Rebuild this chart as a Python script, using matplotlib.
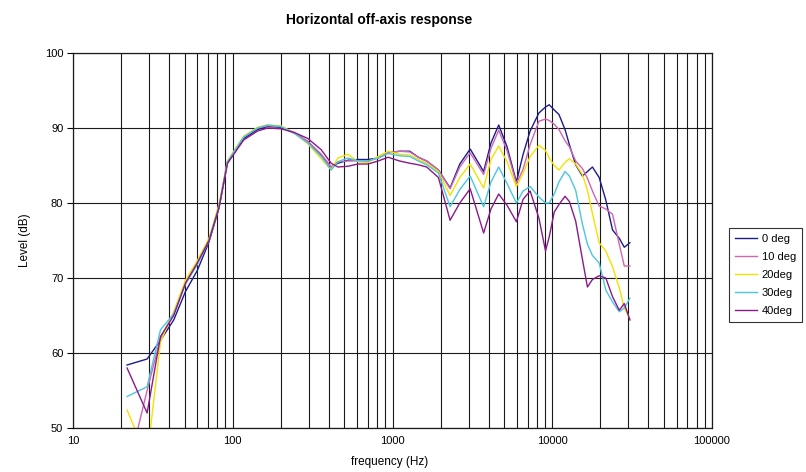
import numpy as np
import matplotlib
matplotlib.use('Agg')
import matplotlib.pyplot as plt
from matplotlib.ticker import FixedLocator, LogLocator, NullFormatter

plt.rcParams['font.family'] = ['Liberation Sans', 'DejaVu Sans']

# --- Data ---
freq = [21.8, 29.1, 35.3, 42.7, 50.6, 60, 71, 82, 92.6, 101.5,
        117, 143, 165, 200, 243, 295, 358, 413, 455, 526,
        608, 703, 813, 940, 1107, 1284, 1451, 1636, 1939, 2293,
        2639, 3064, 3719, 4134, 4622, 5212, 5964, 6571, 7271, 8249,
        9077, 9575, 10294, 11018, 12022, 12794, 14014, 15444, 16606, 17846,
        19665, 21637, 23846, 26271, 28239, 30632]

deg0 = [58.4, 59.2, 61.7, 64.4, 68.2, 71.0, 74.8, 79.3, 85.3, 86.6,
        88.6, 89.8, 90.2, 90.1, 89.3, 88.2, 86.4, 84.8, 85.3, 85.7,
        85.8, 85.8, 86.0, 86.7, 86.9, 86.9, 86.1, 85.6, 84.4, 82.0,
        85.2, 87.2, 84.2, 88.0, 90.4, 87.5, 82.8, 86.5, 89.6, 92.0,
        92.8, 93.1, 92.4, 91.8, 89.8, 87.8, 85.1, 83.6, 84.2, 84.8,
        83.4, 80.4, 76.4, 75.3, 74.1, 74.7]

deg10 = [44.0, 55.0, 62.0, 65.2, 69.5, 72.0, 75.0, 79.5, 85.5, 86.8,
         88.8, 90.0, 90.3, 90.2, 89.4, 88.2, 86.5, 84.8, 85.5, 85.6,
         85.6, 85.6, 86.0, 86.7, 86.9, 86.8, 86.1, 85.6, 84.4, 81.9,
         84.8, 86.7, 83.8, 87.3, 89.7, 87.0, 82.6, 84.5, 87.8, 90.9,
         91.2, 91.0, 90.5, 89.8, 88.3, 87.5, 85.6, 84.6, 83.3, 81.6,
         79.6, 79.2, 78.5, 74.5, 71.6, 71.6]

deg20 = [52.4, 46.0, 61.5, 65.5, 69.7, 72.3, 75.3, 79.8, 85.6, 86.9,
         88.9, 90.1, 90.4, 90.3, 89.3, 87.9, 85.9, 84.4, 86.0, 86.5,
         85.5, 85.4, 86.2, 86.9, 86.5, 86.4, 85.8, 85.3, 84.2, 81.0,
         83.4, 85.2, 82.0, 85.8, 87.6, 85.5, 82.2, 84.0, 86.2, 87.7,
         87.0, 86.0, 85.0, 84.4, 85.4, 85.9, 85.2, 83.8, 81.7, 78.6,
         74.7, 73.6, 71.5, 68.7, 66.0, 64.6]

deg30 = [54.2, 55.5, 63.1, 65.2, 69.2, 71.8, 75.0, 79.5, 85.5, 86.8,
         88.8, 90.0, 90.4, 90.2, 89.3, 88.0, 86.2, 84.4, 85.5, 86.0,
         85.6, 85.6, 86.0, 86.6, 86.3, 86.2, 85.6, 85.1, 84.0, 79.5,
         81.8, 83.6, 79.5, 82.8, 84.8, 82.6, 80.0, 81.6, 82.2, 80.8,
         80.0, 80.0, 81.2, 82.8, 84.2, 83.6, 81.7, 77.2, 74.5, 73.0,
         72.0, 68.4, 66.8, 65.5, 66.0, 67.3]

deg40 = [58.0, 52.0, 62.2, 65.0, 69.3, 72.0, 75.0, 79.4, 85.3, 86.5,
         88.4, 89.6, 90.0, 89.9, 89.4, 88.6, 87.1, 85.3, 84.8, 84.9,
         85.2, 85.2, 85.6, 86.1, 85.6, 85.3, 85.1, 84.8, 83.4, 77.7,
         80.0, 81.9, 76.0, 79.2, 81.2, 79.7, 77.5, 80.5, 81.6, 78.0,
         73.6, 75.5, 78.8, 79.8, 80.9, 80.2, 77.6, 72.5, 68.8, 69.8,
         70.3, 70.0, 67.5, 65.7, 66.6, 64.4]

series = [('0 deg', deg0, '#1c1c8c'),
          ('10 deg', deg10, '#d064b4'),
          ('20deg', deg20, '#f2e200'),
          ('30deg', deg30, '#4cc6e0'),
          ('40deg', deg40, '#8a1a8a')]

# --- Plot ---
fig = plt.figure(figsize=(8.06, 4.72), dpi=100)
ax = fig.add_axes([73 / 806, 1 - 428 / 472, 639 / 806, 375 / 472])

for name, vals, col in series:
    ax.plot(freq, vals, color=col, lw=1.0, label=name)

ax.set_xscale('log')
ax.set_xlim(10, 100000)
ax.set_ylim(50, 100)
ax.set_yticks(np.arange(50, 101, 10))
ax.xaxis.set_major_locator(FixedLocator([10, 100, 1000, 10000, 100000]))
ax.xaxis.set_minor_locator(LogLocator(base=10, subs=np.arange(2, 10)))
ax.xaxis.set_minor_formatter(NullFormatter())
ax.set_xticklabels(['10', '100', '1000', '10000', '100000'])

ax.grid(True, which='major', axis='both', color='#1a1a1a', lw=0.8)
ax.grid(True, which='minor', axis='x', color='#1a1a1a', lw=0.8)
ax.set_axisbelow(True)

ax.tick_params(axis='x', which='both', length=0, pad=6, labelsize=8)
ax.tick_params(axis='y', which='major', length=4, width=0.8, labelsize=8, pad=3)
for sp in ax.spines.values():
    sp.set_color('#1a1a1a')
    sp.set_linewidth(0.9)

ax.set_xlabel('frequency (Hz)', fontsize=8.5)
ax.xaxis.set_label_coords(0.496, -0.076)
ax.set_ylabel('Level (dB)', fontsize=8.5)
ax.yaxis.set_label_coords(-0.066, 0.5)

fig.text(379 / 806, 1 - 20 / 472, 'Horizontal off-axis response',
         ha='center', va='center', fontsize=10, fontweight='bold')

leg = fig.legend(loc='upper left', bbox_to_anchor=(729 / 806, 1 - 228 / 472),
                 fontsize=8, frameon=True, fancybox=False, handlelength=2.0,
                 handletextpad=0.4, borderpad=0.55, labelspacing=0.72,
                 borderaxespad=0)
leg.get_frame().set_edgecolor('black')
leg.get_frame().set_linewidth(0.8)

fig.savefig('out.png', dpi=100)
